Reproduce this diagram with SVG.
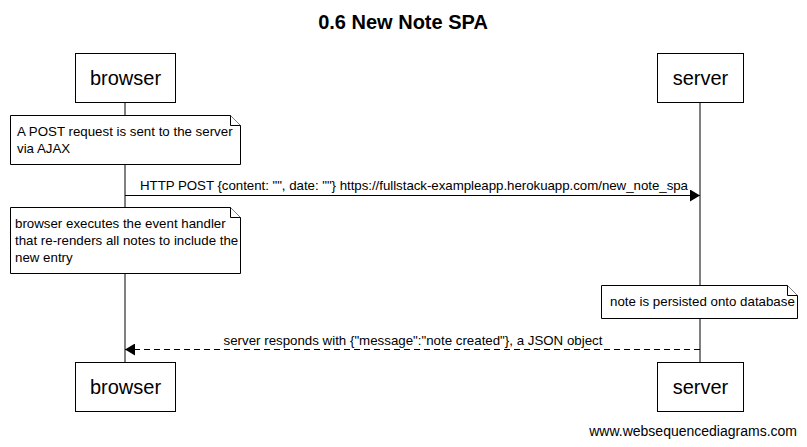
<svg xmlns="http://www.w3.org/2000/svg" width="807" height="447" viewBox="0 0 807 447">
<style>
text{font-family:"Liberation Sans",Arial,sans-serif;fill:#000}
.box{fill:#fff;stroke:#000;stroke-width:1}
.actor{font-size:20px;text-anchor:middle}
.note{fill:#fff;stroke:#000;stroke-width:1}
.nt{font-size:13.3px}
.msg{font-size:13.3px}
.life{stroke:#000;stroke-width:1}
</style>
<defs>
<marker id="ah" markerWidth="10" markerHeight="12" refX="10" refY="6" orient="auto" markerUnits="userSpaceOnUse">
<path d="M0,0 L10,6 L0,12 Z" fill="#000"/>
</marker>
</defs>
<rect width="807" height="447" fill="#fff"/>
<text x="403" y="29" font-size="20" font-weight="bold" text-anchor="middle">0.6 New Note SPA</text>
<g id="lifelines">
<line class="life" x1="125" y1="102" x2="125" y2="362"/>
<line class="life" x1="700" y1="102" x2="700" y2="362"/>
</g>
<g id="browser-top"><rect class="box" x="75.5" y="53.5" width="100" height="49"/><text class="actor" x="125.5" y="85">browser</text></g>
<g id="server-top"><rect class="box" x="657.5" y="53.5" width="86" height="49"/><text class="actor" x="700.5" y="85">server</text></g>
<g id="note1"><path class="note" d="M10.5,115.5 H230.5 L240.5,125.5 V164.5 H10.5 Z"/><path class="note" d="M230.5,115.5 V125.5 H240.5" fill="none"/><text class="nt" x="17" y="136">A POST request is sent to the server</text><text class="nt" x="17" y="153">via AJAX</text></g>
<g id="note2"><path class="note" d="M10.5,207.5 H230.5 L240.5,217.5 V273.5 H10.5 Z"/><path class="note" d="M230.5,207.5 V217.5 H240.5" fill="none"/><text class="nt" x="15" y="228">browser executes the event handler</text><text class="nt" x="15" y="245">that re-renders all notes to include the</text><text class="nt" x="15" y="262">new entry</text></g>
<g id="note3"><path class="note" d="M601.5,285.5 H787.5 L797.5,295.5 V318.5 H601.5 Z"/><path class="note" d="M787.5,285.5 V295.5 H797.5" fill="none"/><text class="nt" x="610" y="306">note is persisted onto database</text></g>
<g id="connectors">
<line x1="125" y1="195.5" x2="700" y2="195.5" stroke="#000" stroke-width="1" marker-end="url(#ah)"/>
<text class="msg" x="140" y="190" textLength="548" lengthAdjust="spacing">HTTP POST {content: "", date: ""} https://fullstack-exampleapp.herokuapp.com/new_note_spa</text>
<line x1="700" y1="349.5" x2="125" y2="349.5" stroke="#000" stroke-width="1" stroke-dasharray="6,4" marker-end="url(#ah)"/>
<text class="msg" x="413" y="345" text-anchor="middle">server responds with {"message":"note created"}, a JSON object</text>
</g>
<g id="browser-bottom"><rect class="box" x="75.5" y="362.5" width="100" height="49"/><text class="actor" x="125.5" y="394">browser</text></g>
<g id="server-bottom"><rect class="box" x="657.5" y="362.5" width="86" height="49"/><text class="actor" x="700.5" y="394">server</text></g>
<text x="797" y="436" font-size="14" text-anchor="end">www.websequencediagrams.com</text>
</svg>
